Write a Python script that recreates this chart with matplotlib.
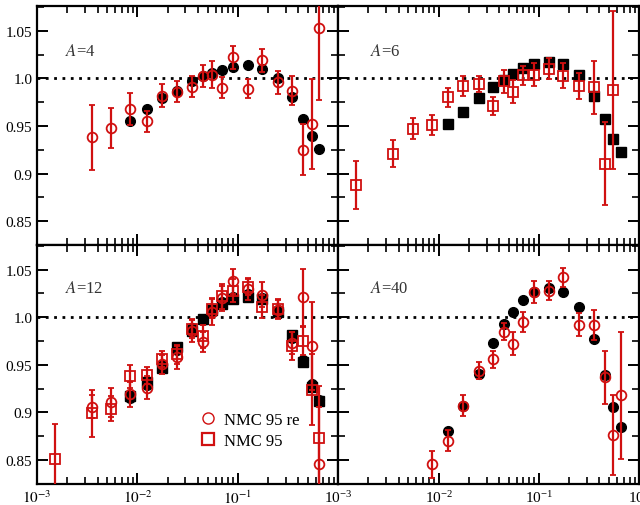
import numpy as np
import matplotlib
matplotlib.use("Agg")
import matplotlib.pyplot as plt
from matplotlib.lines import Line2D
from matplotlib.ticker import LogLocator, MultipleLocator, NullFormatter

plt.rcParams['font.family'] = ['Liberation Serif', 'DejaVu Serif']
plt.rcParams['mathtext.fontset'] = 'stix'

# x bins
x_all = [0.0015, 0.0035, 0.0055, 0.0085, 0.0125, 0.0175, 0.025, 0.035, 0.045,
         0.055, 0.07, 0.09, 0.125, 0.175, 0.25, 0.35, 0.45, 0.55, 0.65]

# A=4
a4_x_re = x_all[1:]
a4_re = [0.938, 0.948, 0.968, 0.955, 0.982, 0.986, 0.991, 1.0025, 1.004, 0.990,
         1.022, 0.989, 1.019, 0.996, 0.987, 0.925, 0.952, 1.053]
a4_re_err = [0.034, 0.021, 0.017, 0.011, 0.012, 0.011, 0.011, 0.012, 0.014, 0.011,
             0.012, 0.010, 0.012, 0.012, 0.015, 0.027, 0.047, 0.076]
a4_x_calc = x_all[3:]
a4_calc = [0.955, 0.968, 0.979, 0.987, 0.997, 1.003, 1.0055, 1.009, 1.012, 1.014,
           1.010, 1.000, 0.980, 0.957, 0.939, 0.926]

# A=6
a6_x_nmc = x_all[:-1]
a6_nmc = [0.888, 0.921, 0.947, 0.951, 0.980, 0.992, 0.994, 0.971, 0.997, 0.986,
          1.0035, 1.004, 1.010, 1.003, 0.992, 0.9905, 0.9105, 0.988]
a6_nmc_err = [0.025, 0.014, 0.011, 0.011, 0.010, 0.010, 0.008, 0.009, 0.012, 0.012,
              0.010, 0.012, 0.011, 0.013, 0.014, 0.028, 0.044, 0.083]
a6_x_calc = x_all[4:]
a6_calc = [0.952, 0.965, 0.979, 0.991, 0.998, 1.005, 1.011, 1.015, 1.0175, 1.015,
           1.004, 0.981, 0.957, 0.936, 0.923]

# A=12
a12_x_nmc = x_all
a12_nmc = [0.851, 0.899, 0.904, 0.938, 0.939, 0.956, 0.961, 0.988, 0.980, 1.009,
           1.022, 1.028, 1.032, 1.011, 1.009, 0.970, 0.975, 0.924, 0.873]
a12_nmc_err = [0.037, 0.025, 0.013, 0.012, 0.009, 0.008, 0.010, 0.010, 0.012, 0.010,
               0.013, 0.012, 0.009, 0.012, 0.010, 0.015, 0.015, 0.037, 0.055]
a12_x_re = x_all[1:]
a12_re = [0.906, 0.9105, 0.919, 0.926, 0.9505, 0.958, 0.9855, 0.974, 1.006, 1.020,
          1.0376, 1.0296, 1.0237, 1.008, 0.973, 1.021, 0.970, 0.846]
a12_re_err = [0.012, 0.015, 0.013, 0.012, 0.010, 0.012, 0.012, 0.011, 0.014, 0.013,
              0.013, 0.011, 0.013, 0.010, 0.012, 0.030, 0.046, 0.060]
a12_x_calc = x_all[3:]
a12_calc_sq = [0.917, 0.932, 0.947, 0.969, 0.986, 0.9985, 1.008, 1.014, 1.019, 1.021,
               1.019, 1.006, 0.981, 0.953, 0.927, 0.912]
a12_calc_re = [0.915, 0.929, 0.950, 0.966, 0.989, 0.997, 1.006, 1.016, 1.021, 1.024,
               1.020, 1.008, 0.978, 0.955, 0.930, 0.913]

# A=40
a40_x_re = x_all[3:]
a40_re = [0.8455, 0.870, 0.907, 0.944, 0.9556, 0.985, 0.972, 0.995, 1.0266, 1.028,
          1.042, 0.9923, 0.992, 0.937, 0.876, 0.918]
a40_re_err = [0.014, 0.011, 0.011, 0.009, 0.009, 0.009, 0.012, 0.010, 0.012, 0.010,
              0.010, 0.012, 0.016, 0.028, 0.042, 0.067]
a40_x_calc = x_all[4:]
a40_calc = [0.880, 0.907, 0.940, 0.973, 0.993, 1.006, 1.0185, 1.026, 1.031, 1.0266,
            1.011, 0.977, 0.939, 0.9056, 0.8846]

red = '#d01010'

def red_points(ax, x, y, err, marker):
    ax.errorbar(x, y, yerr=err, fmt=marker, color=red, mfc='none', mec=red,
                ms=7, mew=1.3, elinewidth=1.6, capsize=2.5, capthick=1.6, zorder=3)

def black_points(ax, x, y, marker):
    ax.plot(x, y, marker, color='black', ms=7, zorder=2)

fig = plt.figure(figsize=(6.4, 5.06), dpi=100)
w = 0.4705; h = 0.472
axs = [[fig.add_axes([0.058, 0.514, w, h]), fig.add_axes([0.5285, 0.514, w, h])],
       [fig.add_axes([0.058, 0.042, w, h]), fig.add_axes([0.5285, 0.042, w, h])]]

for i in range(2):
    for j in range(2):
        ax = axs[i][j]
        ax.set_xscale('log')
        ax.set_xlim(1e-3, 1)
        ax.set_ylim(0.825, 1.076)
        ax.axhline(1.0, color='black', ls=(0, (1, 2)), lw=2, zorder=1)
        ax.set_yticks([0.85, 0.9, 0.95, 1.0, 1.05])
        ax.set_yticklabels(['0.85', '0.9', '0.95', '1.0', '1.05'])
        ax.yaxis.set_minor_locator(MultipleLocator(0.025))
        ax.xaxis.set_major_locator(LogLocator(base=10, numticks=10))
        ax.xaxis.set_minor_locator(LogLocator(base=10, subs=np.arange(2, 10), numticks=20))
        ax.xaxis.set_minor_formatter(NullFormatter())
        ax.tick_params(which='both', direction='in', top=True, right=True, labelsize=11)
        ax.tick_params(which='major', length=8, width=1.4)
        ax.tick_params(which='minor', length=5, width=1.2)
        for s in ax.spines.values():
            s.set_linewidth(1.6)
        if j == 1:
            ax.tick_params(labelleft=False)
        if i == 0:
            ax.tick_params(labelbottom=False)

# left bottom panel: 10^0 label hidden behind the right panel's 10^-3
axs[1][0].set_xticks([1e-3, 1e-2, 1e-1, 1])
axs[1][0].set_xticklabels(['$10^{-3}$', '$10^{-2}$', '$10^{-1}$', ''])

# A=4
ax = axs[0][0]
black_points(ax, a4_x_calc, a4_calc, 'o')
red_points(ax, a4_x_re, a4_re, a4_re_err, 'o')
ax.text(0.093, 0.81, '$A$=4', transform=ax.transAxes, fontsize=12, color='#333333', va='center')

# A=6
ax = axs[0][1]
black_points(ax, a6_x_calc, a6_calc, 's')
red_points(ax, a6_x_nmc, a6_nmc, a6_nmc_err, 's')
ax.text(0.105, 0.81, '$A$=6', transform=ax.transAxes, fontsize=12, color='#333333', va='center')

# A=12
ax = axs[1][0]
black_points(ax, a12_x_calc, a12_calc_re, 'o')
black_points(ax, a12_x_calc, a12_calc_sq, 's')
red_points(ax, a12_x_re, a12_re, a12_re_err, 'o')
red_points(ax, a12_x_nmc, a12_nmc, a12_nmc_err, 's')
ax.text(0.093, 0.82, '$A$=12', transform=ax.transAxes, fontsize=12, color='#333333', va='center')
handles = [Line2D([], [], marker='o', ls='none', mfc='none', mec=red, ms=8, mew=1.0),
           Line2D([], [], marker='s', ls='none', mfc='none', mec=red, ms=8, mew=1.6)]
ax.legend(handles, ['NMC 95 re', 'NMC 95'], loc='center left', bbox_to_anchor=(0.483, 0.225),
          frameon=False, fontsize=12, handlelength=1.2, handletextpad=0.4, labelspacing=0.3)

# A=40
ax = axs[1][1]
black_points(ax, a40_x_calc, a40_calc, 'o')
red_points(ax, a40_x_re, a40_re, a40_re_err, 'o')
ax.text(0.105, 0.82, '$A$=40', transform=ax.transAxes, fontsize=12, color='#333333', va='center')

fig.savefig('out.png', dpi=100)
